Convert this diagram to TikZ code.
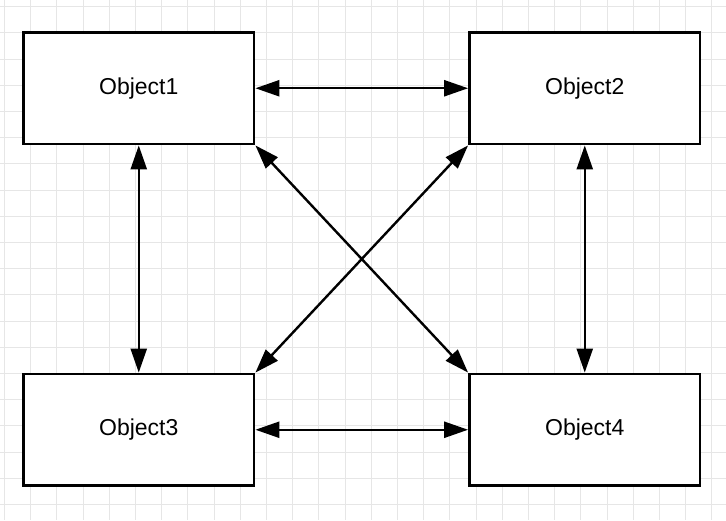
\documentclass[tikz,border=0pt]{standalone}
\usepackage{fontspec}
\setmainfont{Liberation Sans}
\usetikzlibrary{arrows.meta}
\definecolor{gridc}{HTML}{E6E6E6}
\begin{document}
\begin{tikzpicture}[x=1pt,y=-1pt,
  objbox/.style={draw=black,line width=2.8pt,fill=white,minimum width=230.5pt,minimum height=111.5pt,inner sep=0pt,font=\fontsize{23}{27}\selectfont},
  conn/.style={line width=2.4pt,{Triangle[length=24pt,width=16pt]}-{Triangle[length=24pt,width=16pt]}}]
\useasboundingbox (0,0) rectangle (726,520);
\fill[white] (0,0) rectangle (726,520);
\foreach \i in {0,...,27} {\draw[gridc,line width=1pt] ({4.5+26.2*\i},0) -- ({4.5+26.2*\i},520);}
\foreach \j in {0,...,19} {\draw[gridc,line width=1pt] (0,{6.6+26.2*\j}) -- (726,{6.6+26.2*\j});}
\node[objbox] (o1) at (138.75,88.25) {Object1};
\node[objbox] (o2) at (584.75,88.25) {Object2};
\node[objbox] (o3) at (138.75,429.75) {Object3};
\node[objbox] (o4) at (584.75,429.75) {Object4};
\draw[conn] (o1.east) -- (o2.west);
\draw[conn] (o3.east) -- (o4.west);
\draw[conn] (o1.south) -- (o3.north);
\draw[conn] (o2.south) -- (o4.north);
\draw[conn] (o1.south east) -- (o4.north west);
\draw[conn] (o2.south west) -- (o3.north east);
\end{tikzpicture}
\end{document}
